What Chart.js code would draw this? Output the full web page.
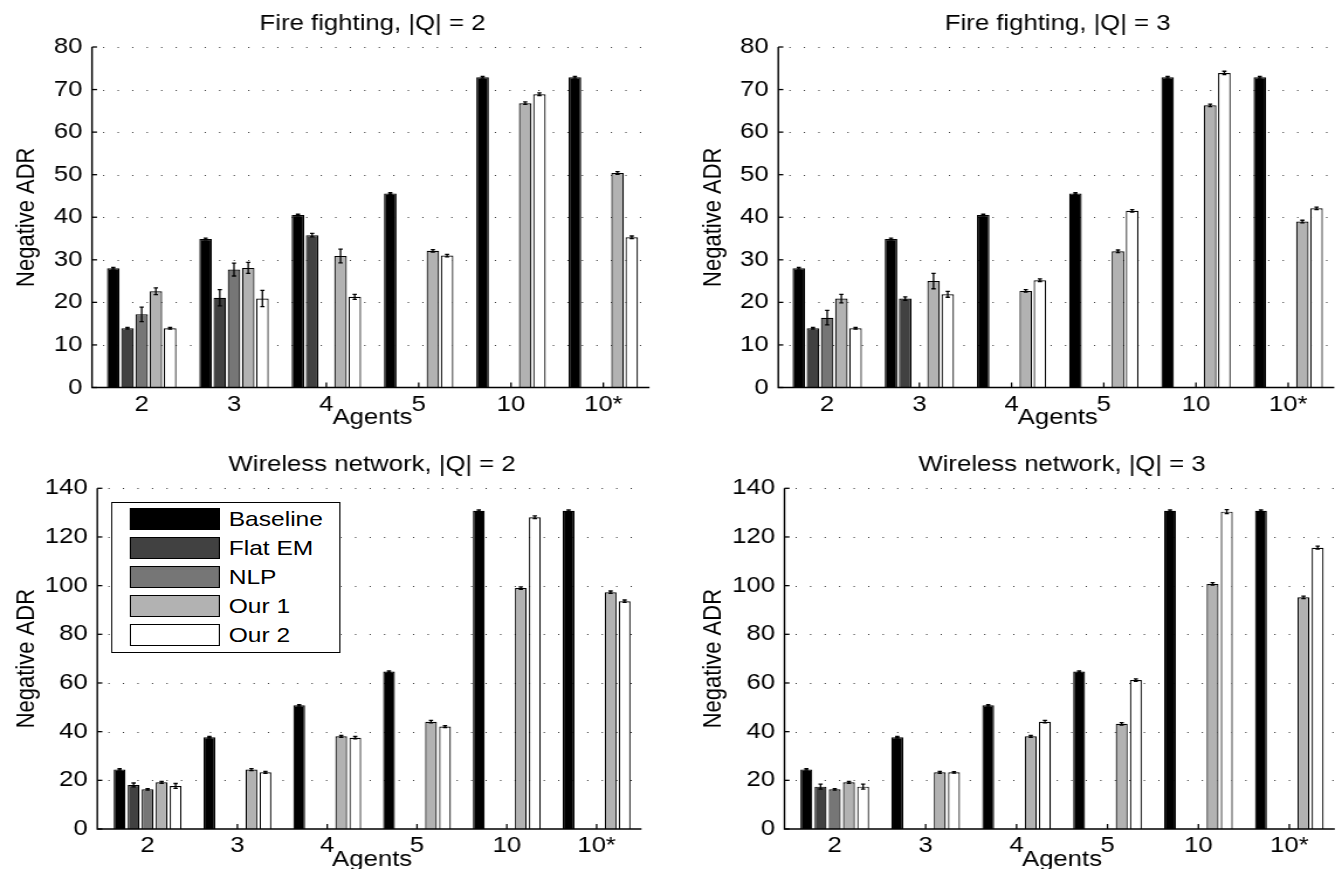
<!DOCTYPE html>
<html>
<head>
<meta charset="utf-8">
<script src="https://cdn.jsdelivr.net/npm/chart.js@4.4.1/dist/chart.umd.min.js"></script>
<style>
html, body { margin:0; padding:0; background:#fff; width:1343px; height:869px; overflow:hidden; }
#wrap { position:absolute; left:0; top:0; height:869px; transform-origin:0 0; }
#wrap canvas { position:absolute; }
#legend { position:absolute; background:#fff; border:1.5px solid #000; box-sizing:border-box; z-index:5; }
#legend .sw { position:absolute; border:1.3px solid #000; box-sizing:border-box; }
#legend .lb { position:absolute; font-family:"Liberation Sans", Arial, Helvetica, sans-serif; font-size:21px; color:#000; white-space:nowrap; line-height:22px; }
</style>
</head>
<body>
<div id="wrap"></div>
<script>
// ---------------- data ----------------
const categories = ['2', '3', '4', '5', '10', '10*'];
const seriesNames = ['Baseline', 'Flat EM', 'NLP', 'Our 1', 'Our 2'];
const fireYTicks = [0, 10, 20, 30, 40, 50, 60, 70, 80];
const wirelessYTicks = [0, 20, 40, 60, 80, 100, 120, 140];
const panelTitles = ['Fire fighting, |Q| = 2', 'Fire fighting, |Q| = 3', 'Wireless network, |Q| = 2', 'Wireless network, |Q| = 3'];
const xAxisTitle = 'Agents';
const yAxisTitle = 'Negative ADR';

// rows: Baseline, Flat EM, NLP, Our 1, Our 2 ; columns: categories
const fireQ2Values = [
  [28.0, 34.9, 40.5, 45.6, 72.9, 72.9],
  [13.9, 21.1, 35.8, null, null, null],
  [17.2, 27.7, null, null, null, null],
  [22.6, 28.1, 30.9, 32.1, 66.8, 50.4],
  [13.9, 20.9, 21.3, 31.0, 68.9, 35.3]
];
const fireQ2Errors = [
  [0.2, 0.2, 0.2, 0.2, 0.2, 0.2],
  [0.2, 1.9, 0.4, 0, 0, 0],
  [1.7, 1.5, 0, 0, 0, 0],
  [0.8, 1.3, 1.6, 0.3, 0.3, 0.3],
  [0.2, 1.9, 0.6, 0.3, 0.3, 0.3]
];
const fireQ3Values = [
  [28.0, 34.9, 40.5, 45.6, 72.9, 72.9],
  [13.9, 20.9, null, null, null, null],
  [16.4, null, null, null, null, null],
  [20.9, 25.0, 22.7, 32.0, 66.3, 39.0],
  [13.9, 21.9, 25.2, 41.5, 73.9, 42.1]
];
const fireQ3Errors = [
  [0.2, 0.2, 0.2, 0.2, 0.2, 0.2],
  [0.2, 0.4, 0, 0, 0, 0],
  [1.7, 0, 0, 0, 0, 0],
  [1.0, 1.8, 0.3, 0.3, 0.3, 0.3],
  [0.2, 0.7, 0.3, 0.3, 0.4, 0.3]
];
const wirelessQ2Values = [
  [24.5, 37.7, 50.8, 64.7, 130.8, 130.8],
  [18.1, null, null, null, null, null],
  [16.3, null, null, null, null, null],
  [19.2, 24.4, 38.1, 44.1, 99.0, 97.3],
  [17.7, 23.3, 37.5, 42.1, 128.1, 93.6]
];
const wirelessQ2Errors = [
  [0.3, 0.3, 0.3, 0.3, 0.3, 0.3],
  [0.8, 0, 0, 0, 0, 0],
  [0.3, 0, 0, 0, 0, 0],
  [0.4, 0.4, 0.4, 0.5, 0.5, 0.5],
  [1.0, 0.4, 0.5, 0.4, 0.6, 0.5]
];
const wirelessQ3Values = [
  [24.5, 37.7, 50.8, 64.7, 130.8, 130.8],
  [17.4, null, null, null, null, null],
  [16.3, null, null, null, null, null],
  [19.2, 23.3, 38.1, 43.2, 100.7, 95.2],
  [17.4, 23.3, 44.1, 61.2, 130.4, 115.6]
];
const wirelessQ3Errors = [
  [0.3, 0.3, 0.3, 0.3, 0.3, 0.3],
  [1.0, 0, 0, 0, 0, 0],
  [0.3, 0, 0, 0, 0, 0],
  [0.4, 0.4, 0.4, 0.5, 0.5, 0.5],
  [1.0, 0.3, 0.5, 0.5, 0.8, 0.6]
];

// ---------------- style / layout ----------------
const seriesColors = ['#000000', '#414141', '#767676', '#b2b2b2', '#ffffff'];
const FONT = '"Liberation Sans", Arial, Helvetica, sans-serif';
const S = 1.17;               // horizontal stretch of the original figure
const FS = 22;                // font size
const LH = FS * 1.2;

const layouts = [
  { box:{left:0,   top:0,   width:680, height:436}, axisX:92,    area:{left:95.5,  right:649.5,  top:47,    bottom:387.5}, yLabelX:27,    tickRight:82.5, agentsY:418,   catPct:0.769, barPct:0.885 },
  { box:{left:680, top:0,   width:663, height:436}, axisX:778.5, area:{left:781.3, right:1334.5, top:47,    bottom:387.5}, yLabelX:713.5, tickRight:769,  agentsY:418,   catPct:0.769, barPct:0.885 },
  { box:{left:0,   top:440, width:680, height:436}, axisX:97.3,  area:{left:102.7, right:641.5,  top:488.3, bottom:829},   yLabelX:27,    tickRight:87.8, agentsY:859.5, catPct:0.78,  barPct:0.84 },
  { box:{left:680, top:440, width:663, height:436}, axisX:784.7, area:{left:789.5, right:1335,   top:488.3, bottom:829},   yLabelX:714,   tickRight:775.2,agentsY:859.5, catPct:0.78,  barPct:0.84 }
];
const panelValues = [fireQ2Values, fireQ3Values, wirelessQ2Values, wirelessQ3Values];
const panelErrors = [fireQ2Errors, fireQ3Errors, wirelessQ2Errors, wirelessQ3Errors];
const panelTicks = [fireYTicks, fireYTicks, wirelessYTicks, wirelessYTicks];

const wrap = document.getElementById('wrap');
wrap.style.width = (1343 / S) + 'px';
wrap.style.transform = 'scaleX(' + S + ')';

const matlabAxes = {
  id: 'matlabAxes',
  beforeDatasetsDraw(chart, args, o) {
    const { ctx, chartArea: ca, scales: { x, y } } = chart;
    ctx.save();
    ctx.lineWidth = 1;
    ctx.strokeStyle = '#303030';
    ctx.setLineDash([1, 11.4]);
    ctx.lineDashOffset = -9.5;
    y.ticks.forEach(t => {
      if (t.value === y.min) return;
      const py = Math.round(y.getPixelForValue(t.value)) + 0.5;
      ctx.beginPath(); ctx.moveTo(o.axisX, py); ctx.lineTo(ca.right + 1, py); ctx.stroke();
    });
    ctx.setLineDash([]);
    ctx.strokeStyle = '#000';
    ctx.lineWidth = 1.3;
    y.ticks.forEach(t => {
      const py = y.getPixelForValue(t.value);
      ctx.beginPath(); ctx.moveTo(o.axisX, py); ctx.lineTo(o.axisX + 4.3, py); ctx.stroke();
    });
    x.ticks.forEach((t, i) => {
      const px = x.getPixelForTick(i);
      ctx.beginPath(); ctx.moveTo(px, ca.bottom); ctx.lineTo(px, ca.bottom - 5); ctx.stroke();
    });
    ctx.restore();
  },
  afterDatasetsDraw(chart, args, o) {
    const { ctx, chartArea: ca, scales: { y } } = chart;
    ctx.save();
    ctx.strokeStyle = '#000';
    ctx.lineWidth = 1.3;
    chart.data.datasets.forEach((ds, i) => {
      const meta = chart.getDatasetMeta(i);
      meta.data.forEach((bar, j) => {
        const v = ds.data[j];
        const e = ds.errors ? ds.errors[j] : 0;
        if (v == null || !e) return;
        const y1 = y.getPixelForValue(v + e), y2 = y.getPixelForValue(v - e);
        const cx = bar.x, cw = 1.8;
        ctx.beginPath();
        ctx.moveTo(cx, y1); ctx.lineTo(cx, y2);
        ctx.moveTo(cx - cw, y1); ctx.lineTo(cx + cw, y1);
        ctx.moveTo(cx - cw, y2); ctx.lineTo(cx + cw, y2);
        ctx.stroke();
      });
    });
    ctx.lineWidth = 1.4;
    ctx.beginPath();
    ctx.moveTo(o.axisX, ca.top);
    ctx.lineTo(o.axisX, ca.bottom);
    ctx.lineTo(ca.right, ca.bottom);
    ctx.stroke();
    ctx.restore();
  }
};

layouts.forEach((L, p) => {
  const cw = L.box.width / S, ch = L.box.height;
  const cv = document.createElement('canvas');
  cv.width = Math.round(cw); cv.height = ch;
  cv.style.width = Math.round(cw) + 'px'; cv.style.height = ch + 'px';
  cv.style.left = (L.box.left / S) + 'px';
  cv.style.top = L.box.top + 'px';
  wrap.appendChild(cv);

  const areaTopRel = L.area.top - L.box.top;
  const titlePadTop = (areaTopRel - 23) - LH / 2;
  const titlePadBottom = areaTopRel - titlePadTop - LH;
  const yW = (L.area.left - L.box.left) / S;
  const yTickPad = (L.area.left - L.tickRight) / S;
  const yTitlePad = (L.yLabelX - L.box.left) / S - LH / 2;
  const xH = L.box.height - (L.area.bottom - L.box.top);
  const xTitlePad = (L.box.top + L.box.height) - L.agentsY - LH / 2;
  const padRight = Math.round(cw) - (L.area.right - L.box.left) / S;
  const ticks = panelTicks[p];
  const font = { family: FONT, size: FS, weight: 'normal' };

  new Chart(cv, {
    type: 'bar',
    data: {
      labels: categories,
      datasets: seriesNames.map((name, i) => ({
        label: name,
        data: panelValues[p][i],
        errors: panelErrors[p][i],
        backgroundColor: seriesColors[i],
        borderColor: '#000',
        borderWidth: 1.2,
        borderSkipped: 'start',
        categoryPercentage: L.catPct,
        barPercentage: L.barPct
      }))
    },
    options: {
      responsive: false,
      animation: false,
      devicePixelRatio: 1,
      layout: { padding: { left: 0, right: padRight, top: 0, bottom: 0 } },
      plugins: {
        legend: { display: false },
        tooltip: { enabled: false },
        title: { display: true, text: panelTitles[p], fullSize: false, color: '#000', font: font,
                 padding: { top: titlePadTop, bottom: titlePadBottom } },
        matlabAxes: { axisX: (L.axisX - L.box.left) / S }
      },
      scales: {
        x: {
          type: 'category', offset: true,
          grid: { display: false, drawTicks: false },
          border: { display: false },
          ticks: { color: '#000', font: font, padding: 4, maxRotation: 0, autoSkip: false },
          title: { display: true, text: xAxisTitle, color: '#000', font: font, padding: { top: 0, bottom: xTitlePad } },
          afterFit: s => { s.height = xH; }
        },
        y: {
          min: ticks[0], max: ticks[ticks.length - 1],
          afterBuildTicks: s => { s.ticks = ticks.map(v => ({ value: v })); },
          grid: { display: false, drawTicks: false },
          border: { display: false },
          ticks: { color: '#000', font: font, padding: yTickPad },
          title: { display: true, text: yAxisTitle, color: '#000', font: font, padding: { top: yTitlePad, bottom: 0 } },
          afterFit: s => { s.width = yW; }
        }
      }
    },
    plugins: [matlabAxes]
  });
});

// legend (in the Wireless network, |Q| = 2 panel)
const lg = document.createElement('div');
lg.id = 'legend';
const LB = { left: 111.7, top: 501.7, right: 340.7, bottom: 652.7 };
lg.style.left = (LB.left / S) + 'px';
lg.style.top = LB.top + 'px';
lg.style.width = ((LB.right - LB.left) / S) + 'px';
lg.style.height = (LB.bottom - LB.top) + 'px';
seriesNames.forEach((name, i) => {
  const sw = document.createElement('div');
  sw.className = 'sw';
  sw.style.left = ((130 - LB.left) / S - 1.5) + 'px';
  sw.style.top = (508.3 - LB.top - 1.5 + 29 * i) + 'px';
  sw.style.width = (90 / S) + 'px';
  sw.style.height = '22px';
  sw.style.background = seriesColors[i];
  lg.appendChild(sw);
  const lb = document.createElement('div');
  lb.className = 'lb';
  lb.textContent = name;
  lb.style.left = ((229.3 - LB.left) / S - 1.5) + 'px';
  lb.style.top = (508.3 - LB.top - 1.5 + 29 * i) + 'px';
  lg.appendChild(lb);
});
wrap.appendChild(lg);
</script>
</body>
</html>
